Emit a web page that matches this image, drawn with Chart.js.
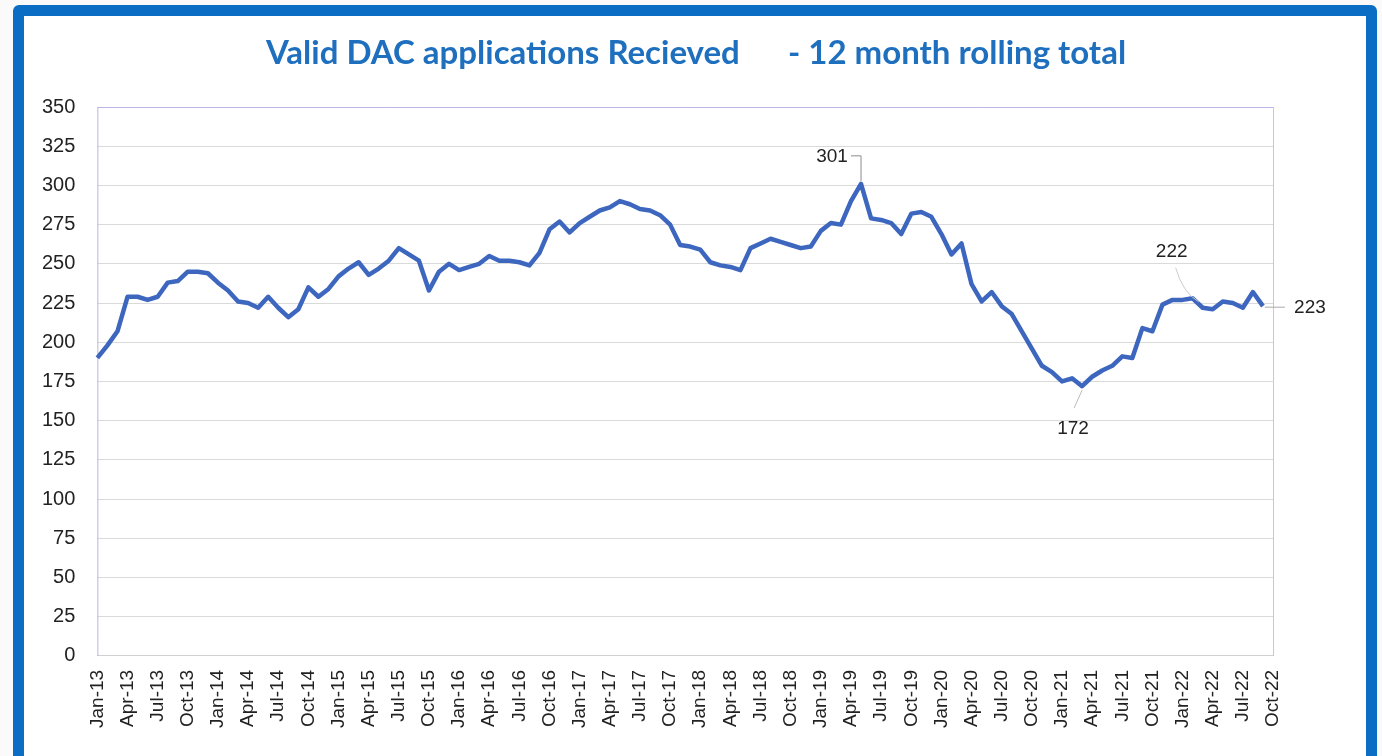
<!DOCTYPE html>
<html>
<head>
<meta charset="utf-8">
<script src="https://cdn.jsdelivr.net/npm/chart.js@4"></script>
<style>
  body { margin: 0; background: #fafafa; }
  #frame {
    position: absolute; left: 13px; top: 5px; width: 1342px; height: 740px;
    border: 11px solid #0b6ec4; border-radius: 6px; background: #fff;
  }
  #wrap { position: absolute; left: 0; top: 0; width: 1382px; height: 756px; }
</style>
</head>
<body>
<div id="frame"></div>
<div id="wrap"><canvas id="chart"></canvas></div>
<script>
// months Jan-13 .. Oct-22
const monthNames = ["Jan", "Feb", "Mar", "Apr", "May", "Jun", "Jul", "Aug", "Sep", "Oct", "Nov", "Dec"];
const years = [13, 14, 15, 16, 17, 18, 19, 20, 21, 22];

// 12 month rolling total (last month has no value yet)
const rollingTotal = [
  190, 198, 207, 229, 229, 227, 229, 238, 239, 245, 245, 244,
  238, 233, 226, 225, 222, 229, 222, 216, 221, 235, 229, 234,
  242, 247, 251, 243, 247, 252, 260, 256, 252, 233, 245, 250,
  246, 248, 250, 255, 252, 252, 251, 249, 257, 272, 277, 270,
  276, 280, 284, 286, 290, 288, 285, 284, 281, 275, 262, 261,
  259, 251, 249, 248, 246, 260, 263, 266, 264, 262, 260, 261,
  271, 276, 275, 290, 301, 279, 278, 276, 269, 282, 283, 280,
  269, 256, 263, 237, 226, 232, 223, 218, 207, 196, 185, 181,
  175, 177, 172, 178, 182, 185, 191, 190, 209, 207, 224, 227,
  227, 228, 222, 221, 226, 225, 222, 232, 223, null
];

const yTicks = [0, 25, 50, 75, 100, 125, 150, 175, 200, 225, 250, 275, 300, 325, 350];

const chartTitle = "Valid DAC applications Recieved      - 12 month rolling total";

// callouts: index into data, text shown
const callouts = [
  { idx: 76, text: "301" },
  { idx: 98, text: "172" },
  { idx: 110, text: "222" },
  { idx: 116, text: "223" }
];

const labels = [];
years.forEach((y) => {
  monthNames.forEach((m) => {
    if (labels.length < rollingTotal.length) labels.push(m + "-" + y);
  });
});

// title sits centred on the whole frame, not on the plot box
const titlePlugin = {
  id: "frameTitle",
  afterDraw(chart) {
    const ctx = chart.ctx;
    ctx.save();
    ctx.font = "bold 33px Lato, 'Open Sans', sans-serif";
    ctx.fillStyle = "#1e6fbe";
    ctx.textAlign = "center";
    ctx.textBaseline = "middle";
    ctx.fillText(chartTitle, 696, 53);
    ctx.restore();
  }
};

const calloutPlugin = {
  id: "callouts",
  afterDatasetsDraw(chart) {
    const ctx = chart.ctx;
    const pts = chart.getDatasetMeta(0).data;
    ctx.save();
    ctx.font = "19px 'Liberation Sans', Arial, sans-serif";
    ctx.fillStyle = "#222";
    ctx.textAlign = "center";
    ctx.textBaseline = "middle";
    ctx.lineWidth = 1;

    // 301 - peak
    let p = pts[callouts[0].idx];
    ctx.strokeStyle = "#8c8c8c";
    ctx.beginPath();
    ctx.moveTo(p.x, p.y - 3);
    ctx.lineTo(p.x, p.y - 28);
    ctx.lineTo(p.x - 10, p.y - 28);
    ctx.stroke();
    ctx.fillText(callouts[0].text, p.x - 29, p.y - 27);

    // 172 - low
    p = pts[callouts[1].idx];
    ctx.strokeStyle = "#bbbbbb";
    ctx.beginPath();
    ctx.moveTo(p.x, p.y + 4);
    ctx.lineTo(p.x - 8, p.y + 22);
    ctx.stroke();
    ctx.fillText(callouts[1].text, p.x - 9, p.y + 43);

    // 222
    p = pts[callouts[2].idx];
    ctx.strokeStyle = "#cccccc";
    ctx.beginPath();
    ctx.moveTo(p.x - 4, p.y - 6);
    ctx.quadraticCurveTo(p.x - 20, p.y - 15, p.x - 27, p.y - 40);
    ctx.stroke();
    ctx.fillText(callouts[2].text, p.x - 31, p.y - 56);

    // 223 - last value
    p = pts[callouts[3].idx];
    ctx.strokeStyle = "#aaaaaa";
    ctx.beginPath();
    ctx.moveTo(p.x + 2, p.y + 1);
    ctx.lineTo(p.x + 22, p.y + 1);
    ctx.stroke();
    ctx.fillText(callouts[3].text, p.x + 47, p.y + 2);

    ctx.restore();
  }
};

const framePlugin = {
  id: "plotFrame",
  beforeDatasetsDraw(chart) {
    const { ctx, chartArea: a } = chart;
    ctx.save();
    ctx.lineWidth = 1;
    ctx.strokeStyle = "#b9b4e6";
    ctx.beginPath();
    ctx.moveTo(a.left + 0.5, a.bottom);
    ctx.lineTo(a.left + 0.5, a.top + 0.5);
    ctx.lineTo(a.right, a.top + 0.5);
    ctx.stroke();
    ctx.strokeStyle = "#c8c8d0";
    ctx.beginPath();
    ctx.moveTo(a.right + 0.5, a.top);
    ctx.lineTo(a.right + 0.5, a.bottom);
    ctx.stroke();
    ctx.restore();
  }
};

new Chart("chart", {
  type: "line",
  data: {
    labels: labels,
    datasets: [
      {
        label: "12 month rolling total",
        data: rollingTotal,
        borderColor: "#3d66bf",
        borderWidth: 4.5,
        pointRadius: 0,
        tension: 0,
        borderJoinStyle: "round"
      }
    ]
  },
  plugins: [framePlugin, calloutPlugin, titlePlugin],
  options: {
    responsive: true,
    maintainAspectRatio: false,
    animation: false,
    layout: { padding: { left: 20, right: 109, top: 107, bottom: 14 } },
    plugins: {
      legend: { display: false },
      tooltip: { enabled: false },
      title: { display: false }
    },
    scales: {
      x: {
        grid: { display: false, drawTicks: false },
        border: { color: "#d0d0d0" },
        ticks: {
          autoSkip: false,
          maxRotation: 90,
          minRotation: 90,
          color: "#222",
          font: { family: "'Liberation Sans', Arial, sans-serif", size: 19 },
          padding: 14,
          callback: function (val, i) {
            return i % 3 === 0 ? labels[i] : null;
          }
        }
      },
      y: {
        min: 0,
        max: 350,
        afterBuildTicks: (scale) => {
          scale.ticks = yTicks.map((v) => ({ value: v }));
        },
        grid: { color: "#dadada", drawTicks: false },
        border: { display: false },
        ticks: {
          color: "#222",
          padding: 22,
          font: { family: "'Liberation Sans', Arial, sans-serif", size: 20 }
        }
      }
    }
  }
});
</script>
</body>
</html>
